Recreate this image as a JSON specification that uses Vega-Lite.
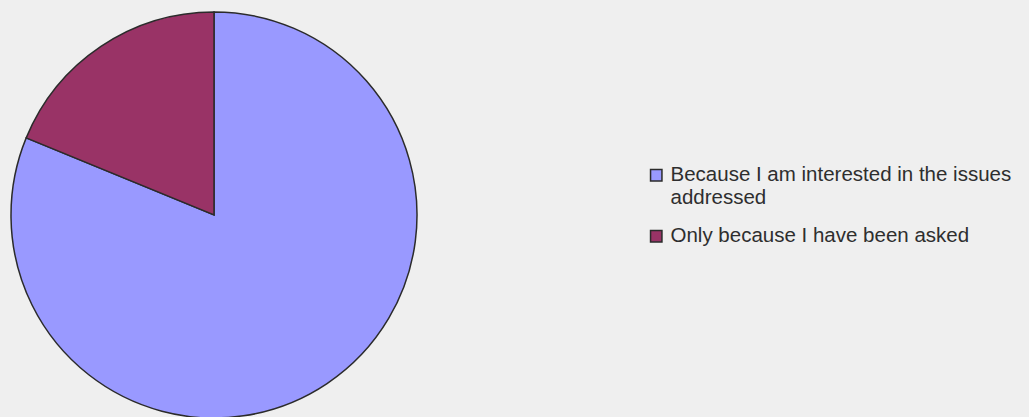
{
  "$schema": "https://vega.github.io/schema/vega-lite/v6.json",
  "autosize": "none",
  "width": 428,
  "height": 430,
  "padding": {"left": 0, "top": 0, "right": 601, "bottom": 0},
  "background": "#efefef",
  "config": {"view": {"stroke": null}, "font": "Liberation Sans"},
  "data": {"values": [
    {"answer": "Because I am interested in the issues addressed", "share": 81.2, "order": 1},
    {"answer": "Only because I have been asked", "share": 18.8, "order": 2}
  ]},
  "mark": {"type": "arc", "outerRadius": 203, "stroke": "#2b2b2b", "strokeWidth": 1.5},
  "encoding": {
    "theta": {"field": "share", "type": "quantitative", "stack": true},
    "order": {"field": "order", "type": "quantitative"},
    "color": {
      "field": "answer",
      "type": "nominal",
      "sort": ["Because I am interested in the issues addressed", "Only because I have been asked"],
      "scale": {"domain": ["Because I am interested in the issues addressed", "Only because I have been asked"], "range": ["#9999ff", "#993366"]},
      "legend": {
        "title": null,
        "orient": "none",
        "legendX": 646,
        "legendY": 165,
        "symbolType": "square",
        "symbolSize": 130,
        "symbolStrokeColor": "#2b2b2b",
        "symbolStrokeWidth": 1.5,
        "labelFontSize": 20.5,
        "labelColor": "#2e2e2e",
        "labelLimit": 500,
        "labelOffset": 4,
        "rowPadding": 17,
        "labelExpr": "datum.label == 'Because I am interested in the issues addressed' ? ['Because I am interested in the issues', 'addressed'] : datum.label"
      }
    }
  }
}
